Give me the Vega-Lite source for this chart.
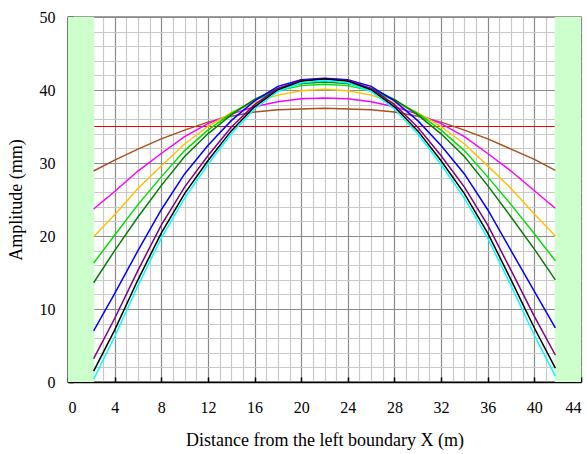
{
  "$schema": "https://vega.github.io/schema/vega-lite/v6.json",
  "width": 513,
  "height": 365,
  "autosize": "none",
  "padding": {"left": 68, "top": 17, "right": 6, "bottom": 72},
  "background": "white",
  "config": {
    "font": "Liberation Serif",
    "view": {"stroke": "#808080", "strokeWidth": 1.5},
    "axis": {
      "labelFont": "Liberation Serif",
      "titleFont": "Liberation Serif",
      "labelFontSize": 16,
      "titleFontSize": 18,
      "titleFontWeight": "normal",
      "labelColor": "#000",
      "titleColor": "#000",
      "domainColor": "#000",
      "domainWidth": 1.5,
      "tickColor": "#000",
      "tickWidth": 1.5,
      "gridWidth": 1.2
    }
  },
  "datasets": {
    "curves": [
      {"x": 2.2, "cyan": 0.4, "black": 1.5, "purple": 3.2, "blue": 7.0, "dkgreen": 13.6, "green": 16.3, "orange": 19.9, "magenta": 23.7, "brown": 28.9},
      {"x": 4, "cyan": 6.2, "black": 7.1, "purple": 8.7, "blue": 12.1, "dkgreen": 18.0, "green": 20.1, "orange": 22.9, "magenta": 26.1, "brown": 30.4},
      {"x": 6, "cyan": 13.2, "black": 14.0, "purple": 15.3, "blue": 18.0, "dkgreen": 22.6, "green": 24.3, "orange": 26.5, "magenta": 28.9, "brown": 31.9},
      {"x": 8, "cyan": 19.7, "black": 20.4, "purple": 21.5, "blue": 23.6, "dkgreen": 26.9, "green": 28.1, "orange": 29.6, "magenta": 31.3, "brown": 33.3},
      {"x": 10, "cyan": 25.2, "black": 25.8, "purple": 26.7, "blue": 28.5, "dkgreen": 30.9, "green": 31.7, "orange": 32.6, "magenta": 33.6, "brown": 34.5},
      {"x": 12, "cyan": 29.8, "black": 30.3, "purple": 31.0, "blue": 32.4, "dkgreen": 34.0, "green": 34.5, "orange": 35.0, "magenta": 35.4, "brown": 35.6},
      {"x": 14, "cyan": 34.0, "black": 34.4, "purple": 34.9, "blue": 35.8, "dkgreen": 36.6, "green": 36.8, "orange": 36.9, "magenta": 36.7, "brown": 36.4},
      {"x": 16, "cyan": 37.4, "black": 37.7, "purple": 38.0, "blue": 38.5, "dkgreen": 38.7, "green": 38.6, "orange": 38.3, "magenta": 37.7, "brown": 37.0},
      {"x": 18, "cyan": 39.8, "black": 40.0, "purple": 40.2, "blue": 40.5, "dkgreen": 40.2, "green": 39.9, "orange": 39.3, "magenta": 38.4, "brown": 37.3},
      {"x": 20, "cyan": 41.0, "black": 41.2, "purple": 41.3, "blue": 41.4, "dkgreen": 40.9, "green": 40.6, "orange": 39.9, "magenta": 38.8, "brown": 37.4},
      {"x": 22, "cyan": 41.3, "black": 41.5, "purple": 41.5, "blue": 41.6, "dkgreen": 41.1, "green": 40.8, "orange": 40.1, "magenta": 38.9, "brown": 37.5},
      {"x": 24, "cyan": 41.0, "black": 41.2, "purple": 41.3, "blue": 41.4, "dkgreen": 40.9, "green": 40.6, "orange": 39.9, "magenta": 38.8, "brown": 37.4},
      {"x": 26, "cyan": 39.8, "black": 40.0, "purple": 40.2, "blue": 40.5, "dkgreen": 40.2, "green": 39.9, "orange": 39.3, "magenta": 38.4, "brown": 37.3},
      {"x": 28, "cyan": 37.4, "black": 37.7, "purple": 38.0, "blue": 38.5, "dkgreen": 38.7, "green": 38.6, "orange": 38.3, "magenta": 37.7, "brown": 37.0},
      {"x": 30, "cyan": 34.0, "black": 34.4, "purple": 34.9, "blue": 35.8, "dkgreen": 36.6, "green": 36.8, "orange": 36.9, "magenta": 36.7, "brown": 36.4},
      {"x": 32, "cyan": 29.8, "black": 30.3, "purple": 31.0, "blue": 32.4, "dkgreen": 34.0, "green": 34.5, "orange": 35.0, "magenta": 35.4, "brown": 35.6},
      {"x": 34, "cyan": 25.2, "black": 25.8, "purple": 26.7, "blue": 28.5, "dkgreen": 30.9, "green": 31.7, "orange": 32.6, "magenta": 33.6, "brown": 34.5},
      {"x": 36, "cyan": 19.7, "black": 20.4, "purple": 21.5, "blue": 23.6, "dkgreen": 26.9, "green": 28.1, "orange": 29.6, "magenta": 31.3, "brown": 33.3},
      {"x": 38, "cyan": 13.2, "black": 14.0, "purple": 15.3, "blue": 18.0, "dkgreen": 22.6, "green": 24.3, "orange": 26.5, "magenta": 28.9, "brown": 31.9},
      {"x": 40, "cyan": 6.4, "black": 7.4, "purple": 9.0, "blue": 12.4, "dkgreen": 18.2, "green": 20.3, "orange": 23.0, "magenta": 26.2, "brown": 30.5},
      {"x": 41.8, "cyan": 0.8, "black": 1.9, "purple": 3.7, "blue": 7.4, "dkgreen": 14.0, "green": 16.6, "orange": 20.0, "magenta": 23.8, "brown": 29.0}
    ],
    "bands": [
      {"x0": 0, "x1": 2.25},
      {"x0": 41.75, "x1": 44}
    ],
    "limit": [{"level": 35}]
  },
  "layer": [
    {
      "data": {"name": "limit"},
      "mark": {"type": "rule", "color": "#ee0000", "strokeWidth": 1.2},
      "encoding": {
        "y": {"field": "level", "type": "quantitative"}
      }
    },
    {
      "data": {"name": "bands"},
      "mark": {"type": "rect", "color": "#ccffcc", "opacity": 1},
      "encoding": {
        "x": {"field": "x0", "type": "quantitative"},
        "x2": {"field": "x1"},
        "y": {"datum": 0, "type": "quantitative"},
        "y2": {"datum": 50}
      }
    },
    {
      "data": {"name": "curves"},
      "transform": [
        {"fold": ["brown", "magenta", "orange", "green", "dkgreen", "blue", "purple", "black", "cyan"], "as": ["series", "amp"]}
      ],
      "mark": {"type": "line", "strokeWidth": 1.5},
      "encoding": {
        "x": {
          "field": "x", "type": "quantitative",
          "scale": {"domain": [0, 44], "nice": false},
          "axis": {
            "values": [0,1,2,3,4,5,6,7,8,9,10,11,12,13,14,15,16,17,18,19,20,21,22,23,24,25,26,27,28,29,30,31,32,33,34,35,36,37,38,39,40,41,42,43,44],
            "tickCount": 200,
            "format": "d",
            "labelExpr": "datum.value % 4 === 0 ? datum.label : ''",
            "labelOverlap": false,
            "labelBound": false,
            "gridColor": {"condition": {"test": "datum.value % 4 === 0", "value": "#8a8a8a"}, "value": "#c8c8c8"},
            "tickOpacity": {"condition": {"test": "datum.value % 4 === 0", "value": 1}, "value": 0},
            "tickSize": -5,
            "labelPadding": 22,
            "title": "Distance from the left boundary X (m)",
            "titlePadding": 16
          }
        },
        "y": {
          "field": "amp", "type": "quantitative",
          "scale": {"domain": [0, 50], "nice": false},
          "axis": {
            "values": [0,2,4,6,8,10,12,14,16,18,20,22,24,26,28,30,32,34,36,38,40,42,44,46,48,50],
            "tickCount": 200,
            "format": "d",
            "labelExpr": "datum.value % 10 === 0 ? datum.label : ''",
            "labelOverlap": false,
            "labelBound": false,
            "gridColor": {"condition": {"test": "datum.value % 10 === 0", "value": "#8a8a8a"}, "value": "#c8c8c8"},
            "tickOpacity": {"condition": {"test": "datum.value % 10 === 0", "value": 1}, "value": 0},
            "tickSize": -5,
            "labelPadding": 18,
            "title": "Amplitude (mm)",
            "titlePadding": 14
          }
        },
        "color": {
          "field": "series", "type": "nominal", "legend": null,
          "scale": {
            "domain": ["brown", "magenta", "orange", "green", "dkgreen", "blue", "purple", "black", "cyan"],
            "range": ["#a8501e", "#ff00ff", "#ffc000", "#00e000", "#008000", "#0000ff", "#800080", "#000000", "#00ffff"]
          }
        },
        "order": {"field": "x", "type": "quantitative"}
      }
    }
  ]
}
